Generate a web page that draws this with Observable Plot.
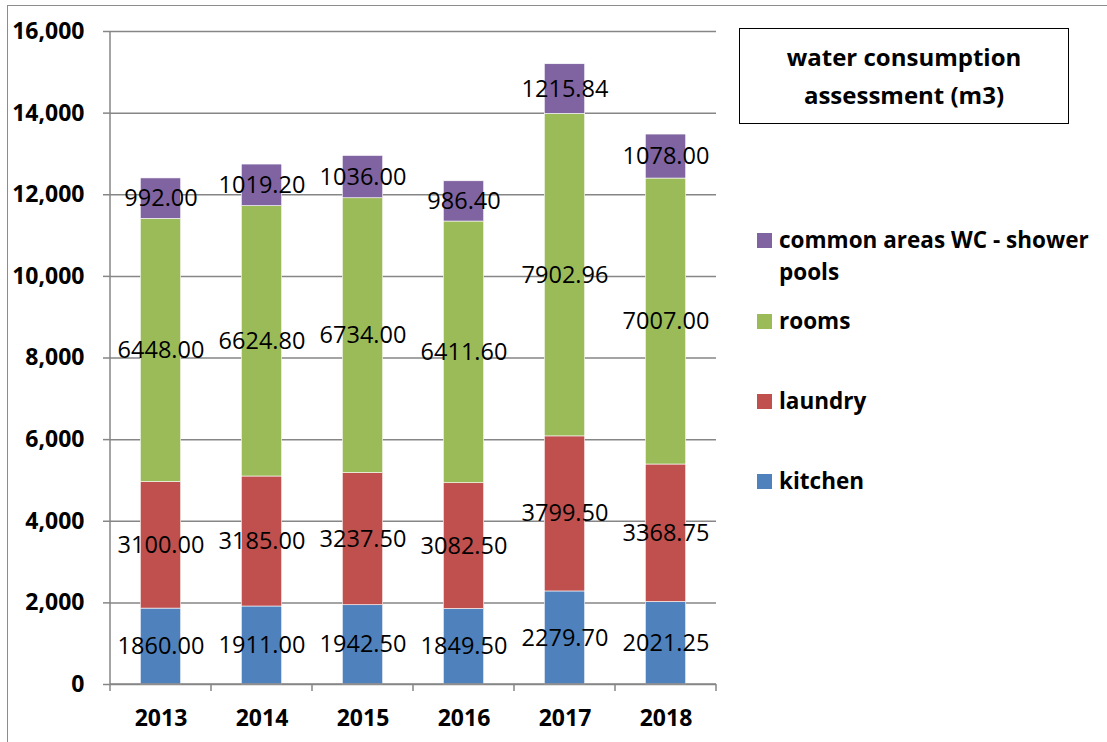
<!DOCTYPE html>
<html><head><meta charset="utf-8">
<script src="https://cdn.jsdelivr.net/npm/d3@7"></script>
<script src="https://cdn.jsdelivr.net/npm/@observablehq/plot@0.6"></script>
<style>
html,body{margin:0;padding:0;background:#fff;overflow:hidden;width:1107px;height:742px}
#wrap{position:relative;width:1107px;height:742px;font-family:"Open Sans",sans-serif}
#border{position:absolute;left:7px;top:5px;width:1300px;height:900px;border:1.5px solid #8c8c8c;box-sizing:border-box}
#chart{position:absolute;left:0;top:0}
#title{position:absolute;left:739px;top:28px;width:330px;height:96px;border:1.5px solid #000;box-sizing:border-box;
  display:flex;align-items:center;justify-content:center;text-align:center;font-weight:bold;font-size:24px;line-height:38px;color:#000;background:#fff}
.item{position:absolute;left:757px;font-weight:bold;font-size:22.5px;line-height:32px;color:#000;white-space:nowrap}
.sw{position:absolute;left:0;top:9px;width:15px;height:15px}
.lab{position:absolute;left:22px;top:0}
</style>
</head><body>
<div id="wrap">
  <div id="border"></div>
  <div id="chart"></div>
  <div id="title">water consumption<br>assessment (m3)</div>
  <div id="legend"></div>
</div>
<script>
const years = ["2013","2014","2015","2016","2017","2018"];
const kitchen = [1860.00, 1911.00, 1942.50, 1849.50, 2279.70, 2021.25];
const laundry = [3100.00, 3185.00, 3237.50, 3082.50, 3799.50, 3368.75];
const rooms   = [6448.00, 6624.80, 6734.00, 6411.60, 7902.96, 7007.00];
const common  = [992.00, 1019.20, 1036.00, 986.40, 1215.84, 1078.00];
const seriesNames = ["kitchen", "laundry", "rooms", "common areas WC - shower pools"];
const seriesColors = ["#4F81BD", "#C0504D", "#9BBB59", "#8064A2"];
const yTicks = [0, 2000, 4000, 6000, 8000, 10000, 12000, 14000, 16000];

const data = [];
[kitchen, laundry, rooms, common].forEach((vals, s) =>
  vals.forEach((v, i) => data.push({year: years[i], series: seriesNames[s], value: v})));

const FONT = "'Open Sans', sans-serif";

const axisLines = (index, scales, values, dims) => {
  const g = d3.create("svg:g").attr("stroke", "#868686").attr("stroke-width", 1.5);
  const x0 = dims.marginLeft, x1 = dims.width - dims.marginRight;
  const yb = dims.height - dims.marginBottom, yt = dims.marginTop;
  const step = (x1 - x0) / years.length;
  g.append("line").attr("x1", x0).attr("x2", x0).attr("y1", yt).attr("y2", yb);
  g.append("line").attr("x1", x0).attr("x2", x1).attr("y1", yb).attr("y2", yb);
  for (let i = 0; i <= years.length; i++) {
    g.append("line").attr("x1", x0 + i * step).attr("x2", x0 + i * step).attr("y1", yb).attr("y2", yb + 7);
  }
  return g.node();
};

const plot = Plot.plot({
  width: 1107,
  height: 742,
  marginLeft: 110,
  marginRight: 391,
  marginTop: 31,
  marginBottom: 58,
  style: {fontFamily: FONT, background: "transparent", color: "#000"},
  x: {domain: years, paddingInner: 0.6, paddingOuter: 0.3, round: false, label: null},
  y: {domain: [0, 16000], label: null},
  color: {domain: seriesNames, range: seriesColors},
  marks: [
    Plot.gridY(yTicks, {stroke: "#868686", strokeOpacity: 1, strokeWidth: 1.5}),
    Plot.barY(data, {x: "year", y: "value", fill: "series", stroke: "white", strokeWidth: 0.6}),
    Plot.text(data, Plot.stackY({x: "year", y: "value", z: "series",
      text: d => d.value.toFixed(2), fontSize: 23.5, fill: "#000", fontFamily: FONT})),
    Plot.axisY({ticks: yTicks, tickFormat: d3.format(","), tickSize: 7, tickPadding: 19,
      fontSize: 23, fontWeight: "bold", stroke: "#868686", strokeWidth: 1.5}),
    Plot.axisX({tickSize: 0, tickPadding: 25, fontSize: 23, fontWeight: "bold"}),
    axisLines
  ]
});
document.getElementById("chart").appendChild(plot);
d3.select(plot).selectAll("text").style("fill", "#000");

// legend built from series arrays (top-down: reverse stack order)
const legendCenters = [481, 401, 321, 240];
const legend = document.getElementById("legend");
seriesNames.forEach((name, i) => {
  const it = document.createElement("div");
  it.className = "item";
  it.style.top = (legendCenters[i] - 16) + "px";
  const sw = document.createElement("div");
  sw.className = "sw";
  sw.style.background = seriesColors[i];
  const lab = document.createElement("div");
  lab.className = "lab";
  const idx = name.indexOf(" pools");
  if (idx > 0) lab.innerHTML = name.slice(0, idx) + "<br>" + name.slice(idx + 1);
  else lab.textContent = name;
  it.appendChild(sw); it.appendChild(lab);
  legend.appendChild(it);
});
</script>
</body></html>
